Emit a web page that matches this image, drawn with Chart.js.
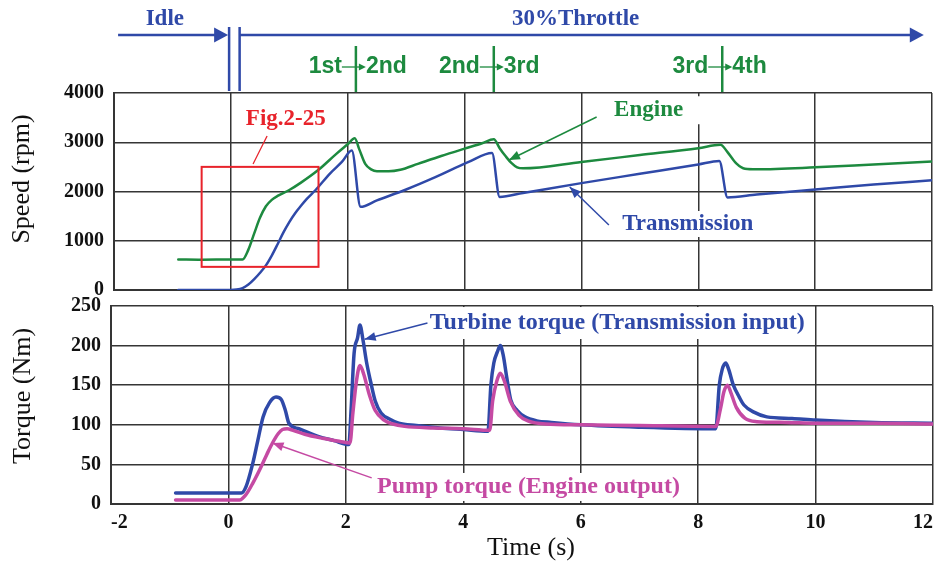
<!DOCTYPE html>
<html>
<head>
<meta charset="utf-8">
<script src="https://cdn.jsdelivr.net/npm/chart.js@4.4.1/dist/chart.umd.min.js"></script>
<style>
  html, body { margin: 0; padding: 0; background: #fff; }
  #wrap { position: relative; width: 941px; height: 568px; overflow: hidden; }
  #speedChart { position: absolute; left: 0; top: 0; }
  #torqueChart { position: absolute; left: 0; top: 288px; }
</style>
</head>
<body>
<div id="wrap">
  <canvas id="speedChart" width="941" height="300"></canvas>
  <canvas id="torqueChart" width="941" height="280"></canvas>
</div>
<script>
// ---- data ----
const timeTicks = [-2, 0, 2, 4, 6, 8, 10, 12];
const speedTicks = [0, 1000, 2000, 3000, 4000];
const torqueTicks = [0, 50, 100, 150, 200, 250];

const engineTime = [-0.9, -0.5, 0, 0.2, 0.3, 0.4, 0.5, 0.6, 0.7, 0.8, 1.0, 1.2, 1.5, 1.8, 2.0, 2.12, 2.2, 2.3, 2.4, 2.5, 2.7, 2.9, 3.2, 3.6, 4.0, 4.3, 4.5, 4.6, 4.7, 4.8, 4.9, 5.0, 6.0, 7.0, 8.0, 8.38, 8.5, 8.65, 8.8, 9.0, 10.0, 11.0, 12.0];
const engineRpm  = [620, 615, 620, 620, 820, 1150, 1470, 1700, 1830, 1910, 2030, 2180, 2440, 2760, 2960, 3080, 2850, 2560, 2450, 2410, 2410, 2440, 2560, 2720, 2870, 2980, 3060, 2880, 2720, 2580, 2490, 2470, 2600, 2740, 2880, 2950, 2800, 2570, 2460, 2450, 2490, 2550, 2610];

const transTime = [-0.9, -0.5, 0, 0.1, 0.2, 0.3, 0.4, 0.5, 0.6, 0.7, 0.8, 0.9, 1.0, 1.1, 1.2, 1.3, 1.45, 1.7, 1.9, 2.07, 2.22, 2.5, 3.0, 3.5, 4.07, 4.47, 4.6, 5.0, 6.0, 7.0, 8.0, 8.36, 8.5, 9.0, 10.0, 11.0, 12.0];
const transRpm  = [0, 0, 0, 10, 40, 110, 220, 350, 500, 700, 930, 1170, 1380, 1560, 1710, 1850, 2030, 2370, 2600, 2830, 1690, 1820, 2040, 2290, 2600, 2780, 1890, 1970, 2170, 2360, 2550, 2620, 1880, 1940, 2040, 2140, 2230];

const turbineTime = [-0.9, 0.22, 0.3, 0.41, 0.5, 0.59, 0.7, 0.81, 0.9, 0.97, 1.03, 1.2, 1.54, 1.8, 2.05, 2.09, 2.14, 2.2, 2.24, 2.29, 2.35, 2.42, 2.5, 2.6, 2.75, 2.9, 3.2, 3.6, 4.0, 4.42, 4.47, 4.52, 4.58, 4.63, 4.68, 4.74, 4.81, 4.92, 5.05, 5.25, 5.5, 6.0, 7.0, 8.3, 8.36, 8.41, 8.47, 8.52, 8.6, 8.7, 8.78, 8.95, 9.17, 9.6, 10.0, 11.0, 12.0];
const turbineNm   = [14, 14, 22, 50, 80, 110, 128, 135, 132, 118, 102, 95, 85, 80, 75, 120, 190, 210, 226, 208, 180, 155, 130, 115, 107, 102, 99, 96, 94, 92, 150, 178, 192, 200, 188, 160, 131, 118, 110, 105, 103, 100, 97, 95, 150, 170, 178, 170, 150, 135, 125, 116, 110, 108, 106, 103, 102];

const pumpTime = [-0.9, 0.19, 0.3, 0.42, 0.53, 0.65, 0.75, 0.85, 0.92, 1.0, 1.1, 1.3, 1.6, 1.9, 2.07, 2.12, 2.18, 2.24, 2.3, 2.4, 2.5, 2.65, 2.8, 3.0, 3.5, 4.0, 4.45, 4.5, 4.57, 4.63, 4.7, 4.8, 4.95, 5.1, 5.4, 6.0, 7.0, 8.3, 8.38, 8.44, 8.5, 8.56, 8.65, 8.8, 9.0, 9.5, 10.0, 11.0, 12.0];
const pumpNm   = [5, 5, 12, 27, 43, 62, 77, 89, 94, 95, 93, 88, 83, 79, 77, 115, 155, 175, 165, 138, 118, 106, 101, 98, 96, 95, 93, 130, 155, 165, 155, 130, 112, 105, 101, 100, 99, 98, 120, 142, 150, 140, 122, 108, 104, 103, 102, 102, 101];

// shift events and annotation anchors (time in s)
const idleEnd = -0.03;
const throttleStart = 0.15;
const shiftTimes = [2.14, 4.5, 8.41];
const shiftLabels = [['1st', '2nd'], ['2nd', '3rd'], ['3rd', '4th']];

const GREEN = '#1d8a3f';
const BLUE = '#2f49a8';
const PINK = '#c54aa3';
const RED = '#e8232b';
const GRID = '#353535';
const SERIF = '"Liberation Serif", "Times New Roman", serif';
const SANS = '"Liberation Sans", Arial, sans-serif';
const TORQUE_TOP = 288;

const pts = (xs, ys) => xs.map((x, i) => ({ x: x, y: ys[i] }));

function fixAxis(w, h) {
    return s => {
        if (w !== null) s.width = w;
        if (h !== null) s.height = h;
        s.paddingTop = 0; s.paddingBottom = 0; s.paddingLeft = 0; s.paddingRight = 0;
    };
}

function arrowHead(ctx, x0, y0, x1, y1, len, half) {
    const a = Math.atan2(y1 - y0, x1 - x0);
    ctx.beginPath();
    ctx.moveTo(x1, y1);
    ctx.lineTo(x1 - len * Math.cos(a) + half * Math.sin(a), y1 - len * Math.sin(a) - half * Math.cos(a));
    ctx.lineTo(x1 - len * Math.cos(a) - half * Math.sin(a), y1 - len * Math.sin(a) + half * Math.cos(a));
    ctx.closePath();
    ctx.fill();
}

function leader(ctx, color, x0, y0, x1, y1) {
    ctx.strokeStyle = color; ctx.fillStyle = color; ctx.lineWidth = 1.5;
    ctx.beginPath(); ctx.moveTo(x0, y0); ctx.lineTo(x1, y1); ctx.stroke();
    arrowHead(ctx, x0, y0, x1, y1, 11, 4.5);
}

function label(ctx, text, x, y, color, font, align, bg) {
    ctx.font = font;
    ctx.textAlign = align || 'center';
    ctx.textBaseline = 'middle';
    const w = ctx.measureText(text).width;
    if (bg) {
        const left = align === 'left' ? x : x - w / 2;
        ctx.fillStyle = '#fff';
        ctx.fillRect(left - bg[0], y - bg[2], w + bg[0] + bg[1], bg[2] * 2);
    }
    ctx.fillStyle = color;
    ctx.fillText(text, x, y);
}

function xAxis(showTicks) {
    return {
        type: 'linear', min: -2, max: 12,
        afterBuildTicks: s => { s.ticks = timeTicks.map(v => ({ value: v })); },
        grid: { color: GRID, lineWidth: 1.5, drawTicks: false },
        border: { color: GRID, width: 2 },
        ticks: {
            display: showTicks, color: '#111', padding: 7, align: 'inner',
            font: { family: SERIF, size: 20, weight: 'bold' },
            callback: v => String(v)
        },
        afterFit: fixAxis(null, showTicks ? 64 : 0)
    };
}

function yAxis(ticks, width) {
    return {
        min: ticks[0], max: ticks[ticks.length - 1],
        afterBuildTicks: s => { s.ticks = ticks.map(v => ({ value: v })); },
        grid: { color: GRID, lineWidth: 1.5, drawTicks: false },
        border: { color: GRID, width: 2 },
        ticks: {
            color: '#111', padding: 10,
            font: { family: SERIF, size: 20, weight: 'bold' },
            callback: v => String(v)
        },
        afterFit: fixAxis(width, null)
    };
}

const speedNotes = {
    id: 'speedNotes',
    afterDraw(chart) {
        const { ctx, chartArea: a, scales: { x, y } } = chart;
        const X = v => x.getPixelForValue(v), Y = v => y.getPixelForValue(v);
        ctx.save();

        // axis title
        ctx.save();
        ctx.translate(22, 179);
        ctx.rotate(-Math.PI / 2);
        label(ctx, 'Speed (rpm)', 0, 0, '#111', '26px ' + SERIF);
        ctx.restore();

        // idle / throttle arrows
        const arrowY = a.top - 58;
        ctx.strokeStyle = BLUE; ctx.fillStyle = BLUE; ctx.lineWidth = 2.5;
        ctx.beginPath();
        ctx.moveTo(X(-1.93), arrowY); ctx.lineTo(X(idleEnd) - 6, arrowY);
        ctx.moveTo(X(throttleStart), arrowY); ctx.lineTo(X(11.86) - 6, arrowY);
        ctx.moveTo(X(idleEnd), a.top - 66); ctx.lineTo(X(idleEnd), a.top - 2);
        ctx.moveTo(X(throttleStart), a.top - 66); ctx.lineTo(X(throttleStart), a.top - 2);
        ctx.stroke();
        arrowHead(ctx, X(-1.93), arrowY, X(idleEnd) - 1, arrowY, 14, 7.5);
        arrowHead(ctx, X(throttleStart), arrowY, X(11.86), arrowY, 14, 7.5);
        label(ctx, 'Idle', X(-1.13), a.top - 74, BLUE, 'bold 23px ' + SERIF);
        label(ctx, '30%Throttle', X(5.9), a.top - 74, BLUE, 'bold 23px ' + SERIF);

        // gear shifts
        const gy = a.top - 26;
        shiftTimes.forEach((t, i) => {
            const px = X(t);
            ctx.strokeStyle = GREEN; ctx.fillStyle = GREEN; ctx.lineWidth = 2.5;
            ctx.beginPath(); ctx.moveTo(px, a.top - 47); ctx.lineTo(px, a.top - 1); ctx.stroke();
            ctx.lineWidth = 1.3;
            ctx.beginPath(); ctx.moveTo(px - 14, gy); ctx.lineTo(px + 8, gy); ctx.stroke();
            arrowHead(ctx, px - 14, gy, px + 10, gy, 7, 3.5);
            label(ctx, shiftLabels[i][0], px - 14, gy, GREEN, 'bold 23px ' + SANS, 'right');
            label(ctx, shiftLabels[i][1], px + 10, gy, GREEN, 'bold 23px ' + SANS, 'left');
        });

        // Fig.2-25 box
        ctx.strokeStyle = RED; ctx.lineWidth = 2;
        ctx.strokeRect(X(-0.5), Y(2500), X(1.5) - X(-0.5), Y(470) - Y(2500));
        ctx.lineWidth = 1.3;
        ctx.beginPath(); ctx.moveTo(X(0.62), Y(3127)); ctx.lineTo(X(0.38), Y(2558)); ctx.stroke();
        label(ctx, 'Fig.2-25', X(0.94), Y(3470), RED, 'bold 23px ' + SERIF);

        // series labels
        label(ctx, 'Engine', X(7.15), Y(3650), GREEN, 'bold 23px ' + SERIF, 'center', [4, 18, 14]);
        leader(ctx, GREEN, X(6.26), Y(3513), X(4.76), Y(2640));
        label(ctx, 'Transmission', X(7.82), Y(1340), BLUE, 'bold 23px ' + SERIF, 'center', [4, 4, 13]);
        leader(ctx, BLUE, X(6.47), Y(1320), X(5.8), Y(2090));

        ctx.restore();
    }
};

const torqueNotes = {
    id: 'torqueNotes',
    afterDraw(chart) {
        const { ctx, chartArea: a, scales: { x, y } } = chart;
        const X = v => x.getPixelForValue(v), Y = v => y.getPixelForValue(v);
        ctx.save();

        ctx.save();
        ctx.translate(23, 396 - TORQUE_TOP);
        ctx.rotate(-Math.PI / 2);
        label(ctx, 'Torque (Nm)', 0, 0, '#111', '26px ' + SERIF);
        ctx.restore();
        label(ctx, 'Time (s)', 531, 548 - TORQUE_TOP, '#111', '26px ' + SERIF);

        label(ctx, 'Turbine torque (Transmission input)', X(3.43), Y(228.5), BLUE, 'bold 24px ' + SERIF, 'left', [4, 8, 16]);
        leader(ctx, BLUE, X(3.39), Y(228.5), X(2.32), Y(208));
        label(ctx, 'Pump torque (Engine output)', X(2.53), Y(21.5), PINK, 'bold 24px ' + SERIF, 'left', [4, 4, 14]);
        leader(ctx, PINK, X(2.44), Y(33), X(0.75), Y(77));

        ctx.restore();
    }
};

const lineStyle = (color, width) => ({
    borderColor: color, backgroundColor: color, borderWidth: width,
    pointRadius: 0, cubicInterpolationMode: 'monotone', borderJoinStyle: 'round', borderCapStyle: 'round'
});

new Chart(document.getElementById('speedChart'), {
    type: 'line',
    data: {
        datasets: [
            Object.assign({ label: 'Transmission', data: pts(transTime, transRpm) }, lineStyle(BLUE, 2.5)),
            Object.assign({ label: 'Engine', data: pts(engineTime, engineRpm) }, lineStyle(GREEN, 2.5))
        ]
    },
    options: {
        responsive: false, animation: false,
        layout: { padding: { top: 93, right: 9, bottom: 10, left: 0 } },
        plugins: { legend: { display: false }, tooltip: { enabled: false } },
        scales: { x: xAxis(false), y: yAxis(speedTicks, 114) }
    },
    plugins: [speedNotes]
});

new Chart(document.getElementById('torqueChart'), {
    type: 'line',
    data: {
        datasets: [
            Object.assign({ label: 'Pump torque (Engine output)', data: pts(pumpTime, pumpNm) }, lineStyle(PINK, 3.5)),
            Object.assign({ label: 'Turbine torque (Transmission input)', data: pts(turbineTime, turbineNm) }, lineStyle(BLUE, 3.5))
        ]
    },
    options: {
        responsive: false, animation: false,
        layout: { padding: { top: 306 - TORQUE_TOP, right: 8, bottom: 0, left: 0 } },
        plugins: { legend: { display: false }, tooltip: { enabled: false } },
        scales: { x: xAxis(true), y: yAxis(torqueTicks, 111) }
    },
    plugins: [torqueNotes]
});
</script>
</body>
</html>
